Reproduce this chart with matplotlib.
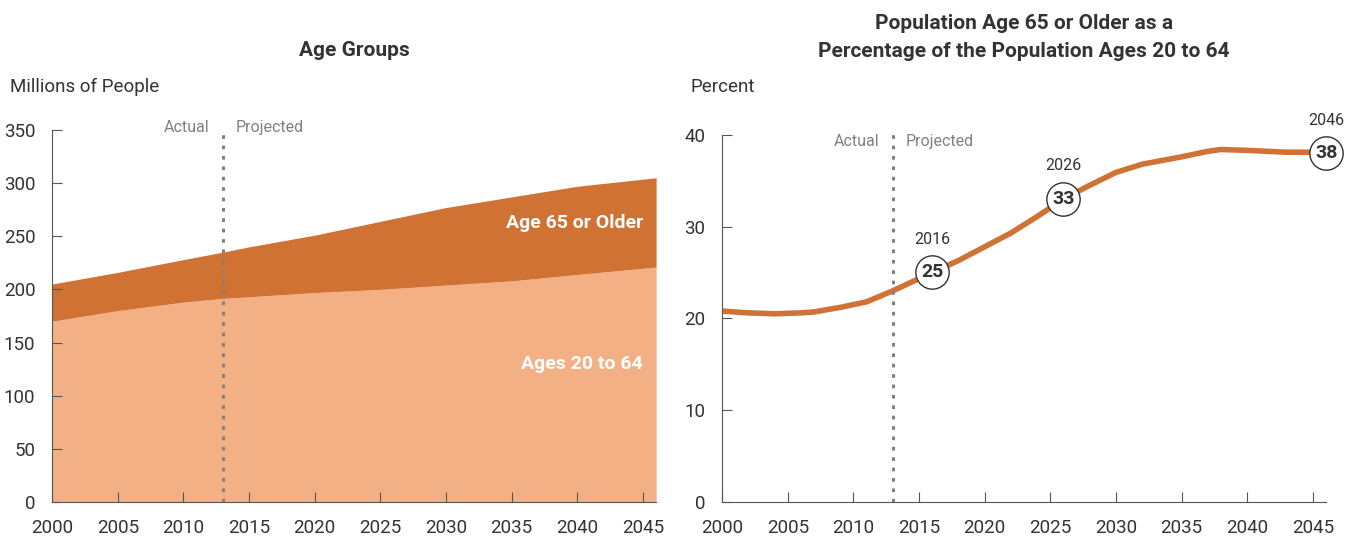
import matplotlib.pyplot as plt

plt.rcParams['font.family'] = ['Liberation Sans Narrow', 'Roboto', 'DejaVu Sans']

# Left panel: population by age group (millions)
years_pop = [2000, 2005, 2010, 2013, 2015, 2020, 2025, 2030, 2035, 2040, 2046]
ages_20_64 = [170, 180, 188, 191.5, 193, 197, 200, 204, 208, 214, 221]
total_pop = [205, 216, 228, 235, 240, 251, 264, 277, 287, 297, 305]

# Right panel: 65+ as percent of 20-64
years_ratio = [2000, 2002, 2004, 2006, 2007, 2009, 2011, 2013, 2016, 2018, 2020, 2022,
               2024, 2026, 2028, 2030, 2032, 2035, 2037, 2038, 2040, 2043, 2046]
ratio = [20.8, 20.6, 20.5, 20.6, 20.7, 21.2, 21.8, 23.0, 25.0, 26.3, 27.8, 29.3,
         31.1, 33.0, 34.5, 35.9, 36.8, 37.6, 38.2, 38.4, 38.3, 38.1, 38.1]
label_years = [2016, 2026, 2046]
label_vals = [25, 33, 38]

dark = '#D07233'
light = '#F4B085'
axis_col = '#555555'
text_col = '#333333'
gray = '#808080'
split_year = 2013

fig = plt.figure(figsize=(13.59, 5.40), dpi=100)
ax1 = fig.add_axes([0.0383, 0.0704, 0.4445, 0.689])
ax2 = fig.add_axes([0.5313, 0.0704, 0.4445, 0.680])

for ax in (ax1, ax2):
    for s in ('top', 'right'):
        ax.spines[s].set_visible(False)
    ax.spines['left'].set_color(axis_col)
    ax.spines['bottom'].set_color(axis_col)
    ax.tick_params(direction='in', length=7, color=axis_col, labelsize=13.5,
                   labelcolor=text_col)
    ax.tick_params(axis='x', pad=12)
    ax.tick_params(axis='y', pad=12)
    ax.set_xticks(range(2000, 2046, 5))
    ax.set_xlim(2000, 2046)

# left panel
ax1.fill_between(years_pop, 0, ages_20_64, color=light, lw=0)
ax1.fill_between(years_pop, ages_20_64, total_pop, color=dark, lw=0)
ax1.set_ylim(0, 350)
ax1.set_yticks(range(0, 351, 50))
ax1.plot([split_year, split_year], [0, 352], ls=(0, (1.2, 2.2)), color=gray, lw=2.2,
         clip_on=False)
ax1.text(split_year - 1.0, 352, 'Actual', ha='right', va='center', fontsize=11.5, color=gray)
ax1.text(split_year + 1.0, 352, 'Projected', ha='left', va='center', fontsize=11.5, color=gray)
ax1.text(2045, 262, 'Age 65 or Older', ha='right', va='center', fontsize=14,
         fontweight='bold', color='white')
ax1.text(2045, 130, 'Ages 20 to 64', ha='right', va='center', fontsize=14,
         fontweight='bold', color='white')
ax1.set_title('Age Groups', fontsize=15, fontweight='bold', color=text_col, pad=53)
fig.text(10 / 1359, 1 - 87 / 540, 'Millions of People', fontsize=13.5, color=text_col,
         va='center', ha='left')

# right panel
ax2.plot(years_ratio, ratio, color=dark, lw=4, solid_capstyle='round')
ax2.set_ylim(0, 40)
ax2.set_yticks(range(0, 41, 10))
ax2.plot([split_year, split_year], [0, 40.5], ls=(0, (1.2, 2.2)), color=gray, lw=2.2,
         clip_on=False)
ax2.text(split_year - 1.0, 39.3, 'Actual', ha='right', va='center', fontsize=11.5, color=gray)
ax2.text(split_year + 1.0, 39.3, 'Projected', ha='left', va='center', fontsize=11.5, color=gray)
for yr, v in zip(label_years, label_vals):
    ax2.plot(yr, v, 'o', ms=24, mfc='white', mec=text_col, mew=1.0, clip_on=False, zorder=4)
    ax2.text(yr, v, str(v), ha='center', va='center', fontsize=14, fontweight='bold',
             color=text_col, zorder=5)
    ax2.text(yr, v + 3.6, str(yr), ha='center', va='center', fontsize=11.5, color=text_col)
ax2.set_title('Population Age 65 or Older as a\nPercentage of the Population Ages 20 to 64',
              fontsize=15, fontweight='bold', color=text_col, pad=56, linespacing=1.6)
fig.text(690 / 1359, 1 - 87 / 540, 'Percent', fontsize=13.5, color=text_col,
         va='center', ha='left')

fig.savefig('out.png', dpi=100)
